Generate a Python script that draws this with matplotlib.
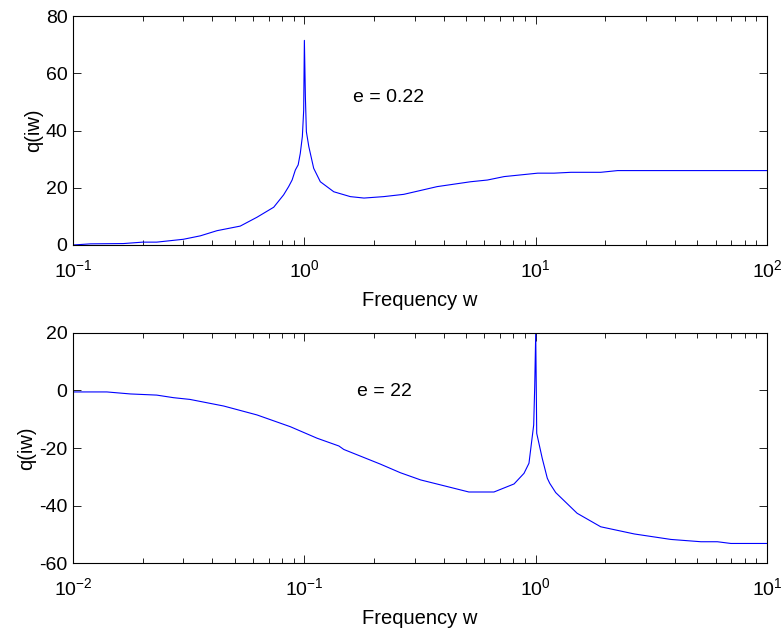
import matplotlib.pyplot as plt
from matplotlib.ticker import LogLocator

plt.rcParams['font.family'] = ['Liberation Sans', 'DejaVu Sans']
plt.rcParams['mathtext.fontset'] = 'custom'
plt.rcParams['mathtext.rm'] = 'Liberation Sans'
plt.rcParams['mathtext.it'] = 'Liberation Sans'
plt.rcParams['mathtext.default'] = 'regular'
plt.rcParams['axes.unicode_minus'] = False

# top panel, e = 0.22
w_top = [0.1, 0.119, 0.165, 0.20, 0.23, 0.30, 0.355, 0.419, 0.528, 0.624, 0.737,
         0.813, 0.855, 0.885, 0.914, 0.94, 0.96, 0.98, 0.993, 1.0, 1.01, 1.02,
         1.045, 1.097, 1.172, 1.34, 1.58, 1.81, 2.2, 2.69, 3.75, 5.23, 6.18, 7.3,
         10.2, 12.0, 14.2, 19.1, 22.6, 100.0]
q_top = [0.0, 0.4, 0.5, 1.0, 1.0, 2.0, 3.2, 5.0, 6.6, 9.7, 13.2,
         17.5, 20.4, 22.7, 26.2, 28.0, 32.0, 37.9, 47.0, 71.5, 51.8, 39.6,
         34.4, 26.8, 22.1, 18.6, 16.9, 16.4, 16.9, 17.7, 20.4, 22.1, 22.7, 23.9,
         25.1, 25.1, 25.4, 25.4, 26.0, 26.0]

# bottom panel, e = 22
w_bot = [0.01, 0.014, 0.0177, 0.023, 0.0272, 0.032, 0.0448, 0.0624, 0.087, 0.1135,
         0.141, 0.148, 0.213, 0.26, 0.318, 0.40, 0.514, 0.66, 0.806, 0.89, 0.935,
         0.98, 0.99, 1.0, 1.01, 1.067, 1.122, 1.15, 1.22, 1.51, 1.91, 2.67, 3.84,
         5.18, 6.1, 6.98, 10.0]
q_bot = [-0.5, -0.5, -1.2, -1.6, -2.5, -3.1, -5.4, -8.5, -12.6, -16.6,
         -19.3, -20.5, -25.6, -28.6, -31.1, -33.1, -35.3, -35.3, -32.5, -28.8, -25.3,
         -12.0, 1.3, 20.0, -14.9, -23.6, -30.5, -32.3, -35.5, -42.7, -47.4, -49.9, -51.8,
         -52.6, -52.6, -53.2, -53.2]

fig = plt.figure(figsize=(7.82, 6.29), dpi=100)
ax1 = fig.add_axes([0.0934, 0.6105, 0.8875, 0.364])
ax2 = fig.add_axes([0.0934, 0.1049, 0.8875, 0.3657])


def style(ax, xlim, ylim, yticks):
    ax.set_xscale('log')
    ax.set_xlim(*xlim)
    ax.set_ylim(*ylim)
    ax.set_yticks(yticks)
    ax.xaxis.set_major_locator(LogLocator(base=10, numticks=10))
    ax.xaxis.set_minor_locator(LogLocator(base=10, subs=range(2, 10), numticks=20))
    ax.tick_params(which='both', direction='in', top=True, right=True,
                   labelsize=14, width=0.6)
    ax.tick_params(axis='x', which='major', length=6, pad=10)
    ax.tick_params(axis='x', which='minor', length=3.5)
    ax.tick_params(axis='y', which='major', length=6, pad=4)
    for s in ax.spines.values():
        s.set_linewidth(0.8)
    ax.set_xlabel('Frequency w', fontsize=14.5, labelpad=7)
    ax.set_ylabel('q(iw)', fontsize=14.5, labelpad=2)


ax1.plot(w_top, q_top, color='#0000ff', lw=0.8)
style(ax1, (0.1, 100), (0, 80), [0, 20, 40, 60, 80])
ax1.text(1.63, 51.5, 'e = 0.22', fontsize=14, va='center')

ax2.plot(w_bot, q_bot, color='#0000ff', lw=0.8)
style(ax2, (0.01, 10), (-60, 20), [-60, -40, -20, 0, 20])
ax2.text(0.168, -0.5, 'e = 22', fontsize=14, va='center')

fig.savefig('out.png', dpi=100)
